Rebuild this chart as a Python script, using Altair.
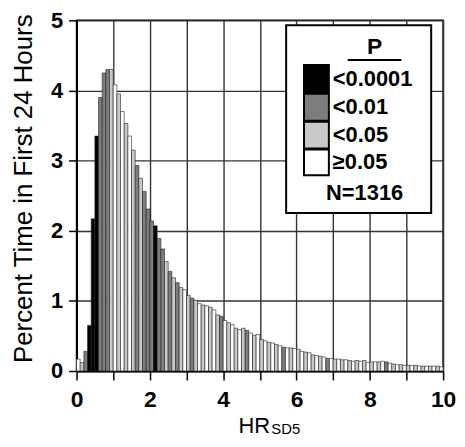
import altair as alt
import pandas as pd

# ---- data ----
bin_width = 0.1
bin_start = [round(i * bin_width, 1) for i in range(100)]
pct_time = [
    0.17, 0.12, 0.28, 0.65, 2.17, 3.35, 3.90, 4.25, 4.30, 4.30,
    4.08, 3.95, 3.70, 3.53, 3.35, 3.15, 2.93, 2.75, 2.56, 2.31,
    2.14, 2.07, 1.89, 1.74, 1.56, 1.42, 1.33, 1.26, 1.19, 1.16,
    1.08, 1.04, 1.01, 0.96, 0.94, 0.93, 0.91, 0.87, 0.80, 0.78,
    0.72, 0.69, 0.66, 0.61, 0.59, 0.61, 0.58, 0.54, 0.51, 0.52,
    0.45, 0.43, 0.41, 0.40, 0.38, 0.36, 0.34, 0.33, 0.33, 0.32,
    0.31, 0.28, 0.27, 0.26, 0.23, 0.22, 0.21, 0.20, 0.18, 0.18,
    0.17, 0.17, 0.16, 0.16, 0.15, 0.14, 0.15, 0.14, 0.15, 0.12,
    0.13, 0.13, 0.13, 0.14, 0.13, 0.11, 0.10, 0.09, 0.09, 0.08,
    0.08, 0.08, 0.08, 0.07, 0.07, 0.07, 0.07, 0.07, 0.07, 0.06,
]
# p-value class per bin: 0 "<0.0001", 1 "<0.01", 2 "<0.05", 3 ">=0.05"
p_class = [
    3, 2, 1, 0, 0, 0, 1, 1, 1, 2,
    3, 2, 3, 2, 3, 2, 1, 2, 1, 1,
    1, 0, 1, 1, 2, 1, 2, 1, 2, 3,
    2, 1, 2, 3, 2, 3, 2, 3, 2, 1,
    3, 2, 3, 2, 3, 2, 1, 3, 2, 3,
    2, 3, 2, 3, 2, 3, 1, 3, 2, 3,
    2, 3, 2, 3, 2, 3, 2, 3, 1, 3,
    2, 3, 2, 3, 2, 3, 2, 3, 2, 3,
    2, 3, 2, 3, 1, 3, 2, 3, 2, 3,
    2, 3, 2, 3, 2, 3, 2, 3, 2, 3,
]
p_labels = ["<0.0001", "<0.01", "<0.05", "\u22650.05"]
p_colors = ["#000000", "#7d7d7d", "#c9c9c9", "#ffffff"]
x_ticks = list(range(0, 11))
y_ticks = [0, 1, 2, 3, 4, 5]
n_text = "N=1316"
legend_title = "P"
y_title = "Percent Time in First 24 Hours"

FONT = "Liberation Sans"

df = pd.DataFrame({
    "start": bin_start,
    "end": [round(s + bin_width, 1) for s in bin_start],
    "pct": pct_time,
    "p": [p_labels[k] for k in p_class],
})

bars = alt.Chart(df).mark_rect(stroke="#222222", strokeWidth=0.6).encode(
    x=alt.X("start:Q",
            scale=alt.Scale(domain=[0, 10], nice=False, zero=True),
            axis=alt.Axis(values=x_ticks,
                          labelExpr="datum.value % 2 == 0 ? datum.label : ''",
                          title=None, labelFont=FONT, labelFontSize=23,
                          labelFontWeight="bold", labelColor="black",
                          labelPadding=9, tickSize=9, tickWidth=1.5,
                          tickColor="black", domainColor="black",
                          domainWidth=2, grid=True, gridColor="#333333",
                          gridWidth=1.4, labelFlush=False)),
    x2="end:Q",
    y=alt.Y("pct:Q",
            scale=alt.Scale(domain=[0, 5], nice=False),
            axis=alt.Axis(values=y_ticks, title=y_title,
                          titleFont=FONT, titleFontSize=26,
                          titleFontWeight="normal", titleColor="black",
                          titleX=-45, titleY=169, titleBaseline="alphabetic",
                          labelFont=FONT, labelFontSize=22,
                          labelFontWeight="bold", labelColor="black",
                          labelPadding=6, tickSize=8, tickWidth=1.5,
                          tickColor="black", domainColor="black",
                          domainWidth=2, grid=True, gridColor="#333333",
                          gridWidth=1.4)),
    y2=alt.datum(0),
    fill=alt.Fill("p:N", scale=alt.Scale(domain=p_labels, range=p_colors),
                  legend=None),
)

one = pd.DataFrame({"k": [0]})
base = alt.Chart(one)

# x-axis title with subscript
hr_text = base.mark_text(text="HR", font=FONT, fontSize=22, align="left",
                         baseline="alphabetic", color="black").encode(
    x=alt.value(163), y=alt.value(415))
sd_text = base.mark_text(text="SD5", font=FONT, fontSize=15, align="left",
                         baseline="alphabetic", color="black").encode(
    x=alt.value(196), y=alt.value(416))

# legend box
box = base.mark_rect(fill="white", stroke="black", strokeWidth=2).encode(
    x=alt.value(211), x2=alt.value(357), y=alt.value(5), y2=alt.value(194))
ptitle = base.mark_text(text=legend_title, font=FONT, fontSize=23,
                        fontWeight="bold", align="center", baseline="middle",
                        color="black").encode(x=alt.value(300), y=alt.value(27))
uline = base.mark_rule(color="black", strokeWidth=2).encode(
    x=alt.value(273), x2=alt.value(327), y=alt.value(40))
ntext = base.mark_text(text=n_text, font=FONT, fontSize=22, fontWeight="bold",
                       align="center", baseline="middle",
                       color="black").encode(x=alt.value(290), y=alt.value(174))

swatch_y = [(45, 73), (74, 101), (102, 129), (130, 156)]
legend_layers = []
for lab, col, (y0, y1) in zip(p_labels, p_colors, swatch_y):
    legend_layers.append(
        base.mark_rect(fill=col, stroke="black", strokeWidth=2).encode(
            x=alt.value(229), x2=alt.value(254), y=alt.value(y0), y2=alt.value(y1)))
    legend_layers.append(
        base.mark_text(text=lab, font=FONT, fontSize=22, fontWeight="bold",
                       align="left", baseline="middle", color="black").encode(
            x=alt.value(258), y=alt.value((y0 + y1) / 2)))

chart = alt.layer(bars, hr_text, sd_text, box, ptitle, uline, ntext,
                  *legend_layers).properties(
    width=369, height=353,
    autosize=alt.AutoSizeParams(type="none"),
    padding={"left": 69, "top": 11, "right": 14, "bottom": 65},
    background="white",
).configure_view(stroke="black", strokeWidth=1.5)

chart.save("out.html", embed_options={"renderer": "svg", "actions": False})
